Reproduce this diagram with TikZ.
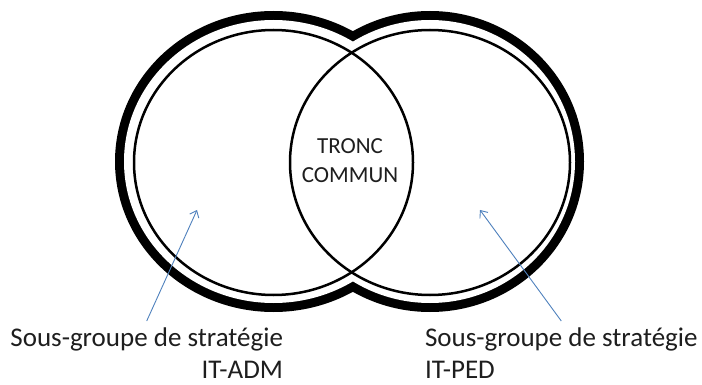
\documentclass[tikz,border=0pt]{standalone}
\usepackage{fontspec}
\setmainfont{Carlito}
\usepackage{tikz}
\usetikzlibrary{arrows.meta}

\definecolor{arrowblue}{RGB}{79,129,189}
\definecolor{textgray}{RGB}{30,30,30}

\begin{document}
\begin{tikzpicture}[x=1pt,y=-1pt,
    rim/.style={line width=18pt},
    ring/.style={line width=2.5pt},
    pointer/.style={arrowblue, line width=0.9pt, -{Straight Barb[length=6pt,width=10pt]}},
    groupname/.style={inner sep=0pt, outer sep=7pt, text=textgray,
      font=\fontsize{27}{32}\selectfont}]
      \useasboundingbox (0,0) rectangle (702,385);

      % thick outline round both sets
      \draw [rim] (273.5,161.5) ellipse [x radius=149.5pt, y radius=141.5pt];
      \draw [rim] (430,161.5) ellipse [x radius=145pt, y radius=141.5pt];
      \fill [white] (273.5,161.5) ellipse [x radius=149.5pt, y radius=141.5pt];
      \fill [white] (430,161.5) ellipse [x radius=145pt, y radius=141.5pt];

      \draw [ring] (273.5,162.5) ellipse [x radius=139.5pt, y radius=132.5pt];
      \draw [ring] (430,162.5) ellipse [x radius=140pt, y radius=132.5pt];

      \node [align=center, text=textgray, font=\fontsize{23}{29}\selectfont] (tronc) at (350,161) {TRONC\\COMMUN};

      \node [groupname, align=right, anchor=north east] (adm) at (290,321) {Sous-groupe de stratégie\\IT-ADM};
      \node [groupname, align=left, anchor=north west] (ped) at (418,321) {Sous-groupe de stratégie\\IT-PED};

      \coordinate (admtip) at (197,210);
      \coordinate (pedtip) at (480,210);

      \draw [pointer] (adm.north) -- (admtip);
      \draw [pointer] (ped.north) -- (pedtip);
\end{tikzpicture}
\end{document}
